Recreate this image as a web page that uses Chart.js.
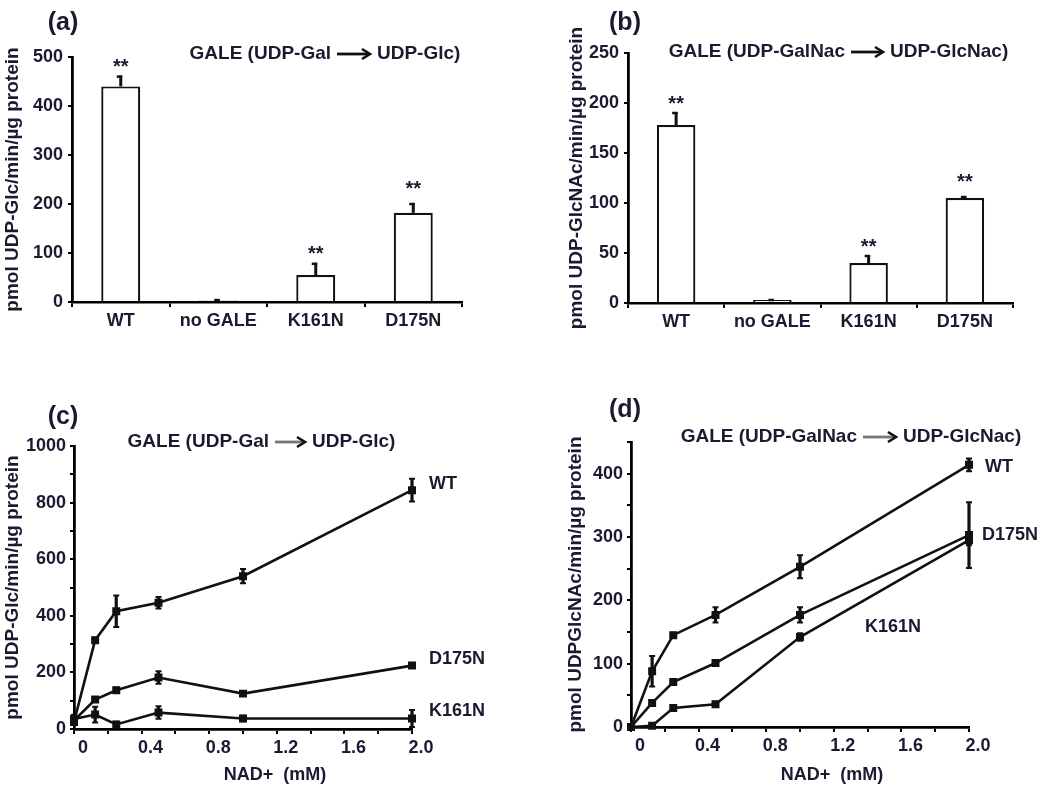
<!DOCTYPE html>
<html><head><meta charset="utf-8">
<script src="https://cdn.jsdelivr.net/npm/chart.js@4.4.0/dist/chart.umd.min.js"></script>
<style>
html,body{margin:0;padding:0;background:#fff;width:1050px;height:787px;overflow:hidden;}
.p{position:absolute;}
canvas{display:block;}
</style></head><body>
<div class="p" style="left:0;top:0;width:520px;height:345px"><canvas id="ca" width="520" height="345"></canvas></div>
<div class="p" style="left:520px;top:0;width:530px;height:345px"><canvas id="cb" width="530" height="345"></canvas></div>
<div class="p" style="left:0;top:370px;width:520px;height:417px"><canvas id="cc" width="520" height="417"></canvas></div>
<div class="p" style="left:520px;top:370px;width:530px;height:417px"><canvas id="cd" width="530" height="417"></canvas></div>
<script>
// ---------- data ----------
const barCategories = ['WT', 'no GALE', 'K161N', 'D175N'];
const galValues = [440, 3, 55, 182];
const galErrors = [22, 3, 25, 20];
const galNacValues = [178, 3, 40, 105];
const galNacErrors = [13, 1, 8, 2];
const starred = [true, false, true, true];

const nadConc = [0, 0.125, 0.25, 0.5, 1, 2];
const galWT = [25, 314, 416, 446, 540, 844];
const galWTErr = [10, 8, 56, 20, 25, 40];
const galD175N = [30, 104, 137, 182, 125, 224];
const galD175NErr = [8, 8, 10, 22, 8, 5];
const galK161N = [35, 51, 16, 58, 37, 37];
const galK161NErr = [15, 28, 10, 22, 10, 30];

const nacWT = [0, 88, 145, 177, 253, 414];
const nacWTErr = [0, 24, 4, 12, 18, 10];
const nacD175N = [0, 38, 71, 101, 177, 303];
const nacD175NErr = [0, 4, 4, 4, 12, 52];
const nacK161N = [0, 2, 30, 36, 142, 295];
const nacK161NErr = [0, 2, 4, 4, 6, 8];

// ---------- helpers ----------
const TXT = '#1a1a30';
const FONT = '"Liberation Sans", Arial, Helvetica, sans-serif';
Chart.defaults.font.family = FONT;
Chart.defaults.color = TXT;
Chart.defaults.animation = false;

function txt(ctx, s, x, y, size, align) {
  ctx.save();
  ctx.font = 'bold ' + size + 'px ' + FONT;
  ctx.fillStyle = TXT;
  ctx.textAlign = align || 'center';
  ctx.textBaseline = 'middle';
  ctx.fillText(s, x, y);
  ctx.restore();
}
function arrow(ctx, x1, x2, y, shaft) {
  ctx.save();
  ctx.lineCap = 'butt';
  ctx.strokeStyle = shaft; ctx.lineWidth = 2.8;
  ctx.beginPath(); ctx.moveTo(x1, y); ctx.lineTo(x2 - 2, y); ctx.stroke();
  ctx.strokeStyle = '#111'; ctx.lineWidth = 2.6;
  ctx.beginPath(); ctx.moveTo(x2 - 8, y - 5); ctx.lineTo(x2, y); ctx.lineTo(x2 - 8, y + 5); ctx.stroke();
  ctx.restore();
}
function headerPlugin(h) {
  return { id: 'hdr', afterDraw(chart) {
    const c = chart.ctx, ox = h.ox, oy = h.oy;
    txt(c, h.panel, h.px - ox, h.py - oy, 25);
    txt(c, h.left, h.a1 - 6 - ox, h.ay - oy, 19, 'right');
    txt(c, h.right, h.a2 + 7 - ox, h.ay - oy, 19, 'left');
    arrow(c, h.a1 - ox, h.a2 - ox, h.ay - oy, h.shaft);
    if (h.xTitle) {
      const ca = chart.chartArea;
      txt(c, h.xTitle, (ca.left + ca.right) / 2 + 32, h.xTitleY - oy, 18);
    }
  }};
}

function makeBar(id, values, errors, cfg) {
  const errPlugin = { id: 'err', afterDatasetsDraw(chart) {
    const ctx = chart.ctx, y = chart.scales.y, meta = chart.getDatasetMeta(0);
    ctx.save();
    ctx.strokeStyle = '#111';
    meta.data.forEach((bar, i) => {
      const y0 = y.getPixelForValue(values[i]);
      const y1 = y.getPixelForValue(values[i] + errors[i]);
      ctx.lineWidth = 3;
      ctx.beginPath(); ctx.moveTo(bar.x, y0); ctx.lineTo(bar.x, y1); ctx.stroke();
      ctx.lineWidth = 2.5;
      ctx.beginPath(); ctx.moveTo(bar.x - 4, y1 + 1); ctx.lineTo(bar.x + 1.5, y1 + 1); ctx.stroke();
      if (starred[i]) txt(ctx, '**', bar.x, y1 - 8 - (i === 3 ? 6 : 0), 20);
    });
    ctx.restore();
  }};
  return new Chart(document.getElementById(id), {
    type: 'bar',
    data: { labels: barCategories, datasets: [{
      data: values, backgroundColor: '#ffffff', borderColor: '#111', borderWidth: 2.2,
      barPercentage: 0.4, categoryPercentage: 1 }] },
    options: {
      responsive: false, animation: false,
      layout: { padding: { left: cfg.padLeft, right: cfg.padRight, top: cfg.padTop, bottom: 0 } },
      plugins: { legend: { display: false }, tooltip: { enabled: false } },
      scales: {
        x: {
          grid: { offset: true, drawOnChartArea: false, tickLength: 5, color: '#000', lineWidth: 2 },
          border: { color: '#000', width: 2.5 },
          ticks: { font: { size: 18, weight: 'bold' }, color: TXT, padding: 3, maxRotation: 0, autoSkip: false },
          afterFit(s) { s.height = cfg.xH; }
        },
        y: {
          min: 0, max: cfg.max,
          ticks: { stepSize: cfg.step, font: { size: 18, weight: 'bold' }, color: TXT, padding: 5 },
          grid: { drawOnChartArea: false, tickLength: 4, color: '#000', lineWidth: 2 },
          border: { color: '#000', width: 2.8 },
          title: { display: true, text: cfg.yTitle, font: { size: 19, weight: 'bold' }, color: TXT, padding: { top: 1, bottom: 0 } },
          afterFit(s) { s.width = cfg.yW; }
        }
      }
    },
    plugins: [errPlugin, headerPlugin(cfg.header)]
  });
}

function makeLine(id, series, cfg) {
  const errPlugin = { id: 'err', afterDatasetsDraw(chart) {
    const ctx = chart.ctx, y = chart.scales.y, x = chart.scales.x;
    ctx.save();
    ctx.strokeStyle = '#111';
    series.forEach(s => {
      s.values.forEach((v, i) => {
        const e = s.errors[i];
        if (!e) return;
        const px = x.getPixelForValue(nadConc[i]);
        const yl = y.getPixelForValue(Math.max(0, v - e)), yh = y.getPixelForValue(v + e);
        ctx.lineWidth = 3.2;
        ctx.beginPath(); ctx.moveTo(px, yl); ctx.lineTo(px, yh); ctx.stroke();
        ctx.lineWidth = 2;
        ctx.beginPath(); ctx.moveTo(px - 3, yl); ctx.lineTo(px + 3, yl);
        ctx.moveTo(px - 3, yh); ctx.lineTo(px + 3, yh); ctx.stroke();
      });
    });
    // series labels
    series.forEach(s => {
      if (s.fixed) { txt(ctx, s.name, s.fixed[0], s.fixed[1], 18, 'center'); return; }
      const last = s.values.length - 1;
      txt(ctx, s.name, x.getPixelForValue(nadConc[last]) + s.dx, y.getPixelForValue(s.values[last]) + s.dy, 18, 'left');
    });
    ctx.restore();
  }};
  return new Chart(document.getElementById(id), {
    type: 'scatter',
    data: { datasets: series.map(s => ({
      data: nadConc.map((c, i) => ({ x: c, y: s.values[i] })),
      showLine: true, tension: 0, borderColor: '#111', borderWidth: 2.6,
      pointStyle: 'rect', pointRadius: 3.8, pointBackgroundColor: '#111', pointBorderColor: '#111',
      clip: false })) },
    options: {
      responsive: false, animation: false,
      layout: { padding: { left: cfg.padLeft, right: cfg.padRight, top: cfg.padTop, bottom: 0 } },
      plugins: { legend: { display: false }, tooltip: { enabled: false } },
      scales: {
        x: {
          type: 'linear', min: 0, max: 2,
          grid: { drawOnChartArea: false, tickLength: 5, color: '#000', lineWidth: 2 },
          border: { color: '#000', width: 2.8 },
          ticks: { stepSize: 0.2, autoSkip: false, maxRotation: 0, labelOffset: 9, padding: 3,
            font: { size: 18, weight: 'bold' }, color: TXT,
            callback(v) { const k = v / 0.4; if (Math.abs(k - Math.round(k)) > 1e-6) return ''; return Math.abs(v) < 1e-9 ? '0' : v.toFixed(1); } },
          afterFit(s) { s.height = cfg.xH; }
        },
        y: {
          min: 0, max: cfg.max,
          ticks: { stepSize: cfg.step, autoSkip: false, font: { size: 18, weight: 'bold' }, color: TXT, padding: 4,
            callback(v) { return (Math.round(v) % cfg.labelEvery === 0) ? String(Math.round(v)) : ''; } },
          grid: { drawOnChartArea: false, tickLength: 4, color: '#000', lineWidth: 2 },
          border: { color: '#000', width: 2.8 },
          title: { display: true, text: cfg.yTitle, font: { size: 19, weight: 'bold' }, color: TXT, padding: { top: 1, bottom: 0 } },
          afterFit(s) { s.width = cfg.yW; }
        }
      }
    },
    plugins: [errPlugin, headerPlugin(cfg.header)]
  });
}

// ---------- panels ----------
makeBar('ca', galValues, galErrors, {
  padLeft: 0, padRight: 58, padTop: 57, xH: 43, yW: 72, max: 500, step: 100,
  yTitle: 'pmol UDP-Glc/min/µg protein',
  header: { ox: 0, oy: 0, panel: '(a)', px: 63, py: 23, left: 'GALE (UDP-Gal', right: 'UDP-Glc)', a1: 337, a2: 370, ay: 54, shaft: '#111' }
});
makeBar('cb', galNacValues, galNacErrors, {
  padLeft: 44, padRight: 37, padTop: 53, xH: 42, yW: 64, max: 250, step: 50,
  yTitle: 'pmol UDP-GlcNAc/min/µg protein',
  header: { ox: 520, oy: 0, panel: '(b)', px: 625, py: 23, left: 'GALE (UDP-GalNac', right: 'UDP-GlcNac)', a1: 851, a2: 883, ay: 52, shaft: '#111' }
});
makeLine('cc', [
  { name: 'WT', values: galWT, errors: galWTErr, dx: 17, dy: -6 },
  { name: 'D175N', values: galD175N, errors: galD175NErr, dx: 17, dy: -7 },
  { name: 'K161N', values: galK161N, errors: galK161NErr, dx: 17, dy: -7 }
], {
  padLeft: 0, padRight: 108, padTop: 76, xH: 58, yW: 74, max: 1000, step: 100, labelEvery: 200,
  yTitle: 'pmol UDP-Glc/min/µg protein',
  header: { ox: 0, oy: 370, panel: '(c)', px: 63, py: 417, left: 'GALE (UDP-Gal', right: 'UDP-Glc)', a1: 275, a2: 305, ay: 442, shaft: '#777', xTitle: 'NAD+  (mM)', xTitleY: 775 }
});
makeLine('cd', [
  { name: 'WT', values: nacWT, errors: nacWTErr, dx: 16, dy: 2 },
  { name: 'D175N', values: nacD175N, errors: nacD175NErr, dx: 13, dy: 0 },
  { name: 'K161N', values: nacK161N, errors: nacK161NErr, fixed: [373, 257] }
], {
  padLeft: 43, padRight: 81, padTop: 72, xH: 60, yW: 68, max: 450, step: 50, labelEvery: 100,
  yTitle: 'pmol UDPGlcNAc/min/µg protein',
  header: { ox: 520, oy: 370, panel: '(d)', px: 625, py: 410, left: 'GALE (UDP-GalNac', right: 'UDP-GlcNac)', a1: 863, a2: 896, ay: 437, shaft: '#777', xTitle: 'NAD+  (mM)', xTitleY: 775 }
});
</script>
</body></html>
